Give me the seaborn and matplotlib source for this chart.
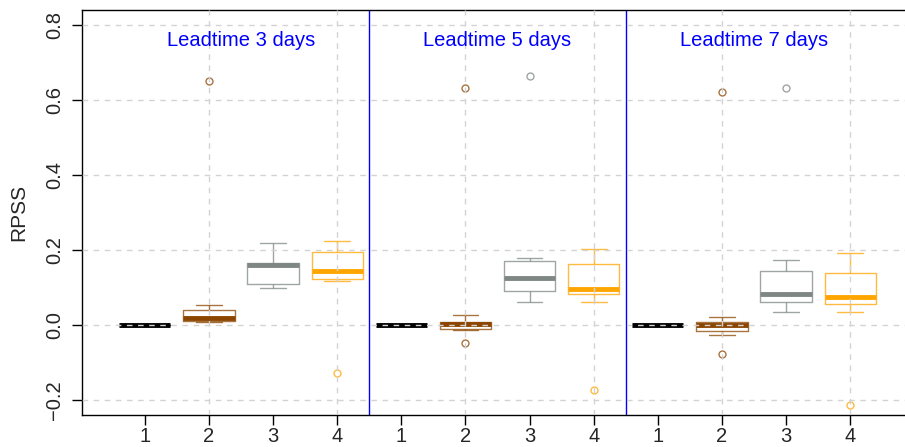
import matplotlib
matplotlib.use("Agg")
import matplotlib.pyplot as plt
import seaborn as sns
import pandas as pd

# Data: RPSS per model (1-4) for three lead times
leadtimes = [3, 5, 7]
models = ["1", "2", "3", "4"]

lt3_m1 = [0.0, 0.0, 0.0, 0.0, 0.0]
lt3_m2 = [0.007, 0.011, 0.011, 0.019, 0.019, 0.039, 0.039, 0.054, 0.651]
lt3_m3 = [0.098, 0.109, 0.159, 0.166, 0.218]
lt3_m4 = [-0.128, 0.117, 0.124, 0.124, 0.144, 0.144, 0.194, 0.194, 0.223]

lt5_m1 = [0.0, 0.0, 0.0, 0.0, 0.0]
lt5_m2 = [-0.048, -0.013, -0.010, 0.002, 0.002, 0.002, 0.007, 0.027, 0.632]
lt5_m3 = [0.062, 0.090, 0.090, 0.126, 0.126, 0.171, 0.171, 0.179, 0.664]
lt5_m4 = [-0.173, 0.062, 0.083, 0.083, 0.097, 0.097, 0.164, 0.164, 0.202]

lt7_m1 = [0.0, 0.0, 0.0, 0.0, 0.0]
lt7_m2 = [-0.077, -0.027, -0.017, 0.001, 0.001, 0.001, 0.007, 0.022, 0.621]
lt7_m3 = [0.036, 0.062, 0.062, 0.083, 0.083, 0.145, 0.145, 0.173, 0.632]
lt7_m4 = [-0.213, 0.034, 0.056, 0.056, 0.075, 0.075, 0.138, 0.138, 0.191]

series = {
    3: [lt3_m1, lt3_m2, lt3_m3, lt3_m4],
    5: [lt5_m1, lt5_m2, lt5_m3, lt5_m4],
    7: [lt7_m1, lt7_m2, lt7_m3, lt7_m4],
}

rows = []
for lt in leadtimes:
    for m, vals in zip(models, series[lt]):
        for v in vals:
            rows.append({"pos": f"{lt}-{m}", "model": m, "rpss": v})
df = pd.DataFrame(rows)
order = [f"{lt}-{m}" for lt in leadtimes for m in models]

palette = {"1": "#000000", "2": "#8B4500", "3": "#7F8784", "4": "#FFA500"}

sns.set_style("white")
plt.rcParams['font.family'] = ['Liberation Sans', 'DejaVu Sans']

fig = plt.figure(figsize=(9.05, 4.47), dpi=100)
ax = fig.add_axes([82 / 905, 32 / 447, 831 / 905, 405 / 447])

sns.boxplot(data=df, x="pos", y="rpss", hue="model", order=order,
            palette=palette, fill=False, dodge=False, width=0.8,
            legend=False, ax=ax, linewidth=1.0,
            boxprops=dict(alpha=0.75),
            whiskerprops=dict(alpha=0.75),
            capprops=dict(alpha=0.75),
            medianprops=dict(linewidth=3.5, alpha=1),
            flierprops=dict(marker="o", markersize=5, markeredgewidth=1,
                            markerfacecolor="none", alpha=0.75))

ax.set_xlim(-0.98, 11.98)
ax.set_ylim(-0.24, 0.84)
ax.set_yticks([-0.2, 0.0, 0.2, 0.4, 0.6, 0.8])
ax.set_yticklabels(["\u22120.2", "0.0", "0.2", "0.4", "0.6", "0.8"],
                   rotation=90, va="center")
ax.set_xticks(range(12))
ax.set_xticklabels(models * 3)
# vertical grid only at every second box (like R's grid())
ax.xaxis.remove_overlapping_locs = False
ax.set_xticks(range(1, 12, 2), minor=True)

# grid drawn on top like R's grid()
ax.set_axisbelow(False)
grid_kw = dict(color="#d3d3d3", linestyle=(0, (4, 4)), linewidth=1)
ax.yaxis.grid(True, which="major", **grid_kw)
ax.xaxis.grid(False, which="major")
ax.xaxis.grid(True, which="minor", **grid_kw)

ax.tick_params(axis="both", which="major", length=7, width=1, color="black",
               labelsize=14.5, direction="out", left=True, bottom=True)
ax.tick_params(axis="x", which="major", pad=2)
ax.tick_params(axis="y", which="major", pad=6)
ax.tick_params(which="minor", length=0)

for s in ax.spines.values():
    s.set_color("black")
    s.set_linewidth(1)

# separators between lead times
for xsep in [3.5, 7.5]:
    ax.axvline(xsep, color="blue", linewidth=1)

for i, lt in enumerate(leadtimes):
    ax.text(1.5 + 4 * i, 0.76, f"Leadtime {lt} days", color="blue",
            ha="center", va="center", fontsize=14.5)

ax.set_xlabel("")
ax.set_ylabel("RPSS", fontsize=15, labelpad=12)

fig.savefig("out.png", dpi=100)
